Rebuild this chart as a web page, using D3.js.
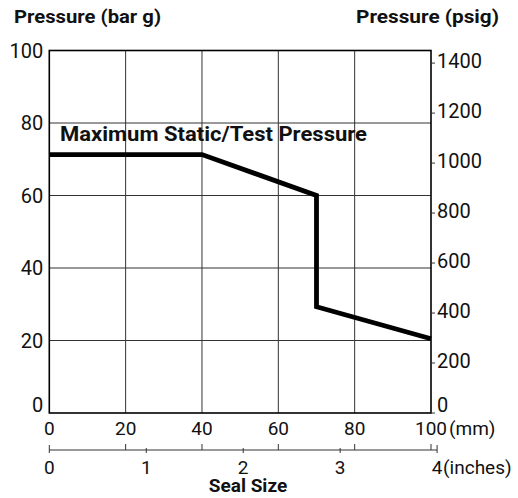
<!DOCTYPE html>
<html>
<head>
<meta charset="utf-8">
<script src="https://cdn.jsdelivr.net/npm/d3@7"></script>
<style>
  body { margin: 0; background: #fff; }
  svg text { font-family: "Liberation Sans Narrow", "Roboto", sans-serif; fill: #111; }
</style>
</head>
<body>
<div id="chart"></div>
<script>
// seal size (mm) vs max static/test pressure (bar g)
var sealSizeMm = [0, 40, 70, 70, 100];
var pressureBar = [71.3, 71.3, 60, 29.3, 20.5];

var mmTicks = [0, 20, 40, 60, 80, 100];
var barTicks = [0, 20, 40, 60, 80, 100];
var psiTicks = [0, 200, 400, 600, 800, 1000, 1200, 1400];
var inchTicks = [0, 1, 2, 3, 4];

var seriesLabel = "Maximum Static/Test Pressure";

var W = 518, H = 498;
var plotL = 49.3, plotR = 431, plotT = 50.5, plotB = 413;

var x = d3.scaleLinear().domain([0, 100]).range([plotL, plotR]);
var y = d3.scaleLinear().domain([0, 100]).range([plotB, plotT]);
var psi = d3.scaleLinear().domain([0, 100 * 14.5038]).range([plotB, plotT]);
var inch = d3.scaleLinear().domain([0, 4]).range([x(0), x(101.6)]);

var svg = d3.select("#chart").append("svg")
    .attr("width", W)
    .attr("height", H);

// grid
svg.append("g").selectAll("line")
    .data(mmTicks.slice(1, -1))
    .enter().append("line")
    .attr("x1", function (d) { return x(d); })
    .attr("x2", function (d) { return x(d); })
    .attr("y1", plotT)
    .attr("y2", plotB)
    .attr("stroke", "#333")
    .attr("stroke-width", 1);

svg.append("g").selectAll("line")
    .data(barTicks.slice(1, -1))
    .enter().append("line")
    .attr("x1", plotL)
    .attr("x2", plotR)
    .attr("y1", function (d) { return y(d); })
    .attr("y2", function (d) { return y(d); })
    .attr("stroke", "#333")
    .attr("stroke-width", 1);

// frame
svg.append("rect")
    .attr("x", plotL)
    .attr("y", plotT)
    .attr("width", plotR - plotL)
    .attr("height", plotB - plotT)
    .attr("fill", "none")
    .attr("stroke", "#000")
    .attr("stroke-width", 1.6);

// left labels
svg.append("g").selectAll("text")
    .data(barTicks)
    .enter().append("text")
    .attr("x", plotL - 6)
    .attr("y", function (d) { return d === 0 ? plotB - 1 : y(d) + 7; })
    .attr("text-anchor", "end")
    .attr("font-size", "20px")
    .text(function (d) { return d; });

// right psi axis
var psiAxis = svg.append("g");
psiAxis.selectAll("line")
    .data(psiTicks)
    .enter().append("line")
    .attr("x1", plotR)
    .attr("x2", plotR + 4)
    .attr("y1", function (d) { return psi(d); })
    .attr("y2", function (d) { return psi(d); })
    .attr("stroke", "#333")
    .attr("stroke-width", 1);
psiAxis.selectAll("text")
    .data(psiTicks)
    .enter().append("text")
    .attr("x", plotR + 6)
    .attr("y", function (d) { return d === 0 ? plotB - 1 : psi(d) + 5; })
    .attr("font-size", "20px")
    .text(function (d) { return d; });

// mm labels
svg.append("g").selectAll("text")
    .data(mmTicks)
    .enter().append("text")
    .attr("x", function (d) { return x(d); })
    .attr("y", 435)
    .attr("text-anchor", "middle")
    .attr("font-size", "19px")
    .text(function (d) { return d; });
svg.append("text")
    .attr("x", x(100) + 18)
    .attr("y", 435)
    .attr("font-size", "19px")
    .text("(mm)");

// inches axis
var inchY = 450;
svg.append("line")
    .attr("x1", inch(0))
    .attr("x2", inch(4))
    .attr("y1", inchY)
    .attr("y2", inchY)
    .attr("stroke", "#333")
    .attr("stroke-width", 1);
svg.append("g").selectAll("line")
    .data(mmTicks.slice(1))
    .enter().append("line")
    .attr("x1", function (d) { return x(d); })
    .attr("x2", function (d) { return x(d); })
    .attr("y1", inchY - 6)
    .attr("y2", inchY)
    .attr("stroke", "#333");
svg.append("g").selectAll("line")
    .data(inchTicks)
    .enter().append("line")
    .attr("x1", function (d) { return inch(d); })
    .attr("x2", function (d) { return inch(d); })
    .attr("y1", function (d) { return d === 0 || d === 4 ? inchY - 5 : inchY - 2; })
    .attr("y2", inchY + 3)
    .attr("stroke", "#333");
svg.append("g").selectAll("text")
    .data(inchTicks)
    .enter().append("text")
    .attr("x", function (d) { return inch(d); })
    .attr("y", 474)
    .attr("text-anchor", "middle")
    .attr("font-size", "19px")
    .text(function (d) { return d; });
svg.append("text")
    .attr("x", inch(4) + 6)
    .attr("y", 474)
    .attr("font-size", "19px")
    .text("(inches)");

// data line
var line = d3.line()
    .x(function (d, i) { return x(sealSizeMm[i]); })
    .y(function (d) { return y(d); });
svg.append("path")
    .datum(pressureBar)
    .attr("d", line)
    .attr("fill", "none")
    .attr("stroke", "#000")
    .attr("stroke-width", 4.8)
    .attr("stroke-linejoin", "miter");

svg.append("text")
    .attr("x", 60)
    .attr("y", 141)
    .attr("font-size", "21px")
    .attr("font-weight", "bold")
    .attr("textLength", 307)
    .attr("lengthAdjust", "spacingAndGlyphs")
    .text(seriesLabel);

// titles
svg.append("text")
    .attr("x", 14)
    .attr("y", 23)
    .attr("font-size", "19px")
    .attr("font-weight", "bold")
    .attr("textLength", 147)
    .attr("lengthAdjust", "spacingAndGlyphs")
    .text("Pressure (bar g)");
svg.append("text")
    .attr("x", 356)
    .attr("y", 23)
    .attr("font-size", "19px")
    .attr("font-weight", "bold")
    .attr("textLength", 143)
    .attr("lengthAdjust", "spacingAndGlyphs")
    .text("Pressure (psig)");
svg.append("text")
    .attr("x", 248)
    .attr("y", 492)
    .attr("text-anchor", "middle")
    .attr("font-size", "19px")
    .attr("font-weight", "bold")
    .text("Seal Size");
</script>
</body>
</html>
